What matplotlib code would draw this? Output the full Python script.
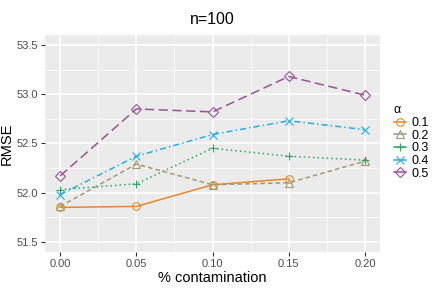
import matplotlib
matplotlib.use("Agg")
import matplotlib.pyplot as plt
from matplotlib import font_manager

# data
contamination = [0.00, 0.05, 0.10, 0.15, 0.20]
alpha_labels = ["0.1", "0.2", "0.3", "0.4", "0.5"]
rmse_01 = [51.85, 51.86, 52.08, 52.14]
rmse_02 = [51.86, 52.29, 52.08, 52.10, 52.32]
rmse_03 = [52.03, 52.09, 52.45, 52.37, 52.33]
rmse_04 = [51.98, 52.37, 52.59, 52.73, 52.64]
rmse_05 = [52.17, 52.85, 52.82, 53.18, 52.99]
series = [rmse_01, rmse_02, rmse_03, rmse_04, rmse_05]

colors = ["#EE8527", "#A39A6E", "#2FA763", "#27AEE0", "#9B4F98"]
markers = ["o", "^", "+", "x", "D"]
styles = ["-", (0, (3, 2)), (0, (1, 2)), (0, (4, 2, 1, 2)), (0, (6, 3))]

names = {f.name for f in font_manager.fontManager.ttflist}
fam = "Liberation Sans Narrow" if "Liberation Sans Narrow" in names else "Liberation Sans"
plt.rcParams["font.family"] = [fam, "DejaVu Sans"]

fig = plt.figure(figsize=(4.36, 3.0), dpi=100)
ax = fig.add_axes([0.103, 0.161, 0.769, 0.722])
ax.set_facecolor("#EBEBEB")

for vals, lab, c, m, ls in zip(series, alpha_labels, colors, markers, styles):
    x = contamination[:len(vals)]
    mfc = c if m in ("+", "x") else "none"
    ax.plot(x, vals, color=c, linestyle=ls, linewidth=1.1, marker=m,
            markersize=5.5, markerfacecolor=mfc, markeredgecolor=c,
            markeredgewidth=0.8, label=lab)

ax.set_xlim(-0.01, 0.21)
ax.set_ylim(51.4, 53.6)
ax.set_xticks(contamination)
ax.set_xticklabels([f"{v:.2f}" for v in contamination])
ax.set_yticks([51.5, 52.0, 52.5, 53.0, 53.5])
ax.set_xticks([0.025, 0.075, 0.125, 0.175], minor=True)
ax.set_yticks([51.75, 52.25, 52.75, 53.25], minor=True)
ax.grid(which="major", color="white", linewidth=1.1)
ax.grid(which="minor", color="white", linewidth=0.5)
ax.set_axisbelow(True)
for s in ax.spines.values():
    s.set_visible(False)
ax.tick_params(which="major", length=3, color="#333333", labelsize=8,
               labelcolor="#4D4D4D", pad=2)
ax.tick_params(which="minor", length=0)

ax.set_xlabel("% contamination", fontsize=10.5, labelpad=2)
ax.set_ylabel("RMSE", fontsize=10.5, labelpad=2)
ax.set_title("n=100", fontsize=11.5, pad=8)

leg = ax.legend(title="α", loc="upper left", bbox_to_anchor=(1.015, 0.72),
                frameon=False, fontsize=9, title_fontsize=9,
                handlelength=1.0, handletextpad=0.4, labelspacing=0.05,
                borderaxespad=0.3)
leg._legend_box.align = "left"
for h in leg.legend_handles:
    h.set_linestyle("-")

fig.savefig("out.png", dpi=100)
